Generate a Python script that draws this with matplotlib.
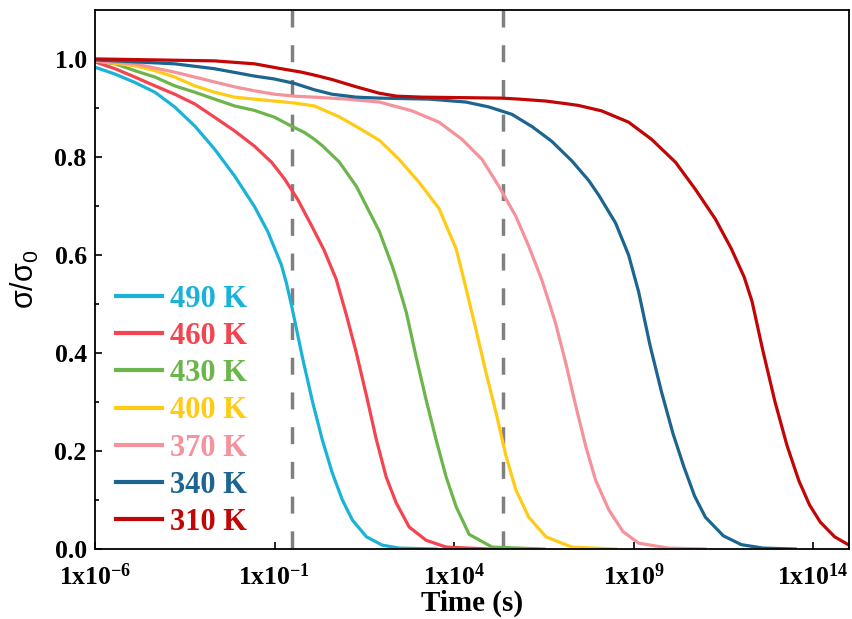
import matplotlib
matplotlib.use('Agg')
import matplotlib.pyplot as plt
import numpy as np

plt.rcParams['font.family'] = 'Liberation Serif'
plt.rcParams['font.weight'] = 'bold'
plt.rcParams['mathtext.fontset'] = 'custom'
plt.rcParams['mathtext.rm'] = 'Liberation Serif:bold'
plt.rcParams['mathtext.bf'] = 'Liberation Serif:bold'
plt.rcParams['mathtext.it'] = 'Liberation Serif:bold:italic'
plt.rcParams['mathtext.sf'] = 'Liberation Sans:weight=normal'

# curves: log10(time in s) and sigma/sigma0
labels = ['490 K', '460 K', '430 K', '400 K', '370 K', '340 K', '310 K']
colors = ['#1AB3D7', '#F5434F', '#6CB54B', '#FFCB14', '#F5929B', '#1C6590', '#C20606']

logt_490 = [-6.0, -5.44, -4.89, -4.33, -3.78, -3.22, -2.67, -2.11, -1.56, -1.19, -0.81, -0.67,
            -0.52, -0.22, 0.06, 0.33, 0.61, 0.89, 1.17, 1.56, 2.0, 2.47, 3.5]
sig_490 = [0.983, 0.969, 0.952, 0.932, 0.902, 0.863, 0.816, 0.761, 0.699, 0.648, 0.580, 0.543,
           0.495, 0.390, 0.300, 0.223, 0.155, 0.100, 0.059, 0.025, 0.008, 0.002, 0.0]

logt_460 = [-6.0, -5.44, -4.89, -4.33, -3.78, -3.22, -2.67, -2.11, -1.56, -1.08, -0.72, -0.36,
            0.03, 0.38, 0.72, 1.0, 1.28, 1.56, 1.83, 2.11, 2.39, 2.75, 3.22, 3.78, 5.0]
sig_460 = [0.994, 0.980, 0.963, 0.945, 0.928, 0.908, 0.881, 0.853, 0.822, 0.789, 0.755, 0.714,
           0.660, 0.610, 0.550, 0.478, 0.400, 0.313, 0.225, 0.147, 0.094, 0.045, 0.018, 0.004,
           0.0]

logt_430 = [-6.0, -5.44, -4.89, -4.33, -3.78, -3.22, -2.67, -2.11, -1.56, -1.0, -0.53, -0.17,
            0.11, 0.33, 0.8, 1.28, 1.92, 2.28, 2.4, 2.67, 2.94, 3.22, 3.5, 3.78, 4.06, 4.42,
            5.06, 6.5]
sig_430 = [0.996, 0.990, 0.976, 0.963, 0.945, 0.932, 0.918, 0.904, 0.895, 0.881, 0.863, 0.850,
           0.836, 0.823, 0.790, 0.740, 0.648, 0.577, 0.550, 0.483, 0.393, 0.305, 0.223, 0.147,
           0.086, 0.030, 0.004, 0.0]

logt_400 = [-6.0, -4.89, -4.33, -3.78, -3.22, -2.67, -2.11, -1.56, -1.0, -0.44, 0.11, 0.8,
            1.28, 1.92, 2.47, 3.03, 3.58, 4.06, 4.28, 4.61, 4.89, 5.17, 5.44, 5.72, 6.08, 6.56,
            7.28, 8.5]
sig_400 = [0.996, 0.986, 0.976, 0.963, 0.945, 0.932, 0.922, 0.918, 0.914, 0.910, 0.904, 0.882,
           0.862, 0.834, 0.795, 0.748, 0.695, 0.612, 0.548, 0.448, 0.360, 0.278, 0.192, 0.121,
           0.065, 0.025, 0.004, 0.0]

logt_370 = [-6.0, -4.89, -3.78, -2.67, -2.11, -1.56, -1.0, -0.44, 0.11, 1.0, 1.92, 2.83, 3.58,
            4.22, 4.78, 5.25, 5.72, 6.08, 6.44, 6.69, 6.83, 7.11, 7.39, 7.67, 7.94, 8.31, 8.7,
            9.14, 9.97, 11.0]
sig_370 = [0.996, 0.990, 0.973, 0.953, 0.943, 0.935, 0.928, 0.924, 0.922, 0.918, 0.912, 0.894,
           0.871, 0.836, 0.795, 0.740, 0.679, 0.618, 0.550, 0.493, 0.460, 0.380, 0.292, 0.209,
           0.141, 0.080, 0.036, 0.012, 0.002, 0.0]

logt_340 = [-6.0, -3.78, -2.67, -1.56, -1.0, -0.44, 0.11, 0.6, 1.28, 1.92, 3.31, 4.33, 4.97,
            5.61, 6.17, 6.72, 7.28, 7.75, 8.03, 8.5, 8.86, 9.14, 9.46, 9.78, 10.1, 10.4, 10.7,
            11.0, 11.5, 12.0, 12.6, 13.5]
sig_340 = [0.998, 0.990, 0.980, 0.965, 0.959, 0.950, 0.937, 0.928, 0.922, 0.920, 0.918, 0.912,
           0.902, 0.887, 0.862, 0.832, 0.792, 0.752, 0.722, 0.665, 0.600, 0.525, 0.415, 0.320,
           0.235, 0.168, 0.108, 0.065, 0.027, 0.009, 0.002, 0.0]

logt_310 = [-6.0, -2.67, -1.56, -0.81, -0.25, 0.11, 0.6, 1.28, 1.92, 2.4, 3.11, 5.33, 5.81,
            6.56, 7.19, 7.47, 8.11, 8.86, 9.5, 10.17, 10.72, 11.28, 11.72, 12.08, 12.3, 12.6,
            12.94, 13.27, 13.6, 13.9, 14.2, 14.6, 15.0]
sig_310 = [1.0, 0.996, 0.990, 0.980, 0.973, 0.967, 0.958, 0.943, 0.930, 0.924, 0.922, 0.920,
           0.918, 0.914, 0.908, 0.905, 0.894, 0.871, 0.836, 0.789, 0.734, 0.673, 0.613, 0.555,
           0.505, 0.405, 0.300, 0.212, 0.140, 0.090, 0.055, 0.025, 0.008]

logt_all = [logt_490, logt_460, logt_430, logt_400, logt_370, logt_340, logt_310]
sig_all = [sig_490, sig_460, sig_430, sig_400, sig_370, sig_340, sig_310]

# dashed reference times
t_marks = [0.3, 2.3e5]

xticks = [1e-6, 1e-1, 1e4, 1e9, 1e14]
xticklabels = ['1x10$^{-6}$', '1x10$^{-1}$', '1x10$^{4}$', '1x10$^{9}$', '1x10$^{14}$']

fig = plt.figure(figsize=(8.52, 6.19), dpi=100)
ax = fig.add_axes([0.1115, 0.113, 0.885, 0.871])

for t in t_marks:
    # drawn top to bottom so the dash pattern starts at the top spine
    ax.plot([t, t], [1.1, 0.0], color='#808080', lw=2.5, ls=(0, (4.9, 5.1)), zorder=1)

for lt, s, c, lab in zip(logt_all, sig_all, colors, labels):
    ax.plot(10.0 ** np.array(lt), s, color=c, lw=2.3, label=lab, zorder=2,
            solid_joinstyle='round')

ax.set_xscale('log')
ax.set_xlim(1e-6, 1e15)
ax.set_ylim(0, 1.1)
ax.set_xticks(xticks)
ax.set_xticklabels(xticklabels)
ax.xaxis.set_minor_locator(matplotlib.ticker.NullLocator())
ax.set_yticks([0.0, 0.2, 0.4, 0.6, 0.8, 1.0])
ax.set_yticklabels(['0.0', '0.2', '0.4', '0.6', '0.8', '1.0'])
ax.set_yticks(np.arange(0.1, 1.1, 0.2), minor=True)
ax.tick_params(axis='both', which='both', direction='in', labelsize=18.5, width=1.2)
ax.tick_params(which='major', length=5)
ax.tick_params(which='minor', length=3)
ax.tick_params(axis='x', pad=10)
ax.tick_params(axis='y', pad=6)
for sp in ax.spines.values():
    sp.set_linewidth(1.3)

ax.set_xlabel('Time (s)', fontsize=21, fontweight='bold', labelpad=0)
ax.set_ylabel(r'$\mathsf{\sigma/\sigma_0}$', fontsize=22, labelpad=10)

leg = ax.legend(loc='lower left', bbox_to_anchor=(0.028, 0.022), frameon=False,
                fontsize=22, handlelength=1.5, handletextpad=0.25, labelspacing=0.27,
                borderpad=0, borderaxespad=0)
for txt, c in zip(leg.get_texts(), colors):
    txt.set_color(c)
for ln in leg.get_lines():
    ln.set_linewidth(3)

fig.savefig('out.png', dpi=100)
